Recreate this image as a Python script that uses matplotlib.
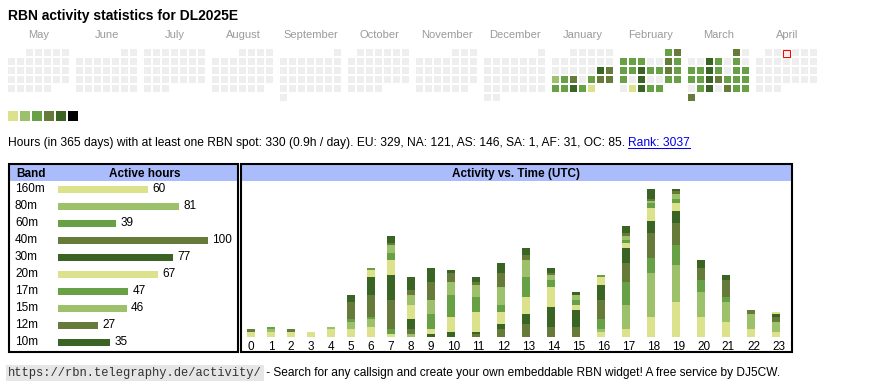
import datetime as dt
import numpy as np
import matplotlib
matplotlib.use('Agg')
import matplotlib.pyplot as plt
from matplotlib.patches import Rectangle

plt.rcParams['font.family'] = ['Liberation Sans', 'DejaVu Sans']

W, H = 870, 390

# activity level colours (0 = no spot, 1..6 = more hours)
level_colors = ['#eeeeee', '#dbe28b', '#9dc16a', '#68a046', '#667a39', '#396424', '#000000']

title = 'RBN activity statistics for DL2025E'
month_names = ['May', 'June', 'July', 'August', 'September', 'October', 'November',
               'December', 'January', 'February', 'March', 'April']
start_date = dt.date(2024, 5, 1)
end_date = dt.date(2025, 4, 30)
today = dt.date(2025, 4, 3)

# daily activity levels of the active months
jan_levels = [0] * 17 + [5, 4, 2, 3, 4, 0, 3, 4, 4, 3, 3, 5, 3, 1]
feb_levels = [3, 4, 3, 3, 3, 0, 0, 4, 3, 3, 3, 5, 3, 3, 4, 3, 3, 0, 5, 0, 0, 3, 3, 0, 1, 5, 3, 3]
mar_levels = [4, 0, 0, 0, 5, 3, 0, 3, 0, 3, 3, 5, 3, 0, 3, 3, 3, 3, 5, 4, 3, 3, 3, 0, 3, 5, 0, 4, 3, 3, 4]

stats_text = ('Hours (in 365 days) with at least one RBN spot: 330 (0.9h / day). '
              'EU: 329, NA: 121, AS: 146, SA: 1, AF: 31, OC: 85. ')
rank_text = 'Rank: 3037'

bands = ['160m', '80m', '60m', '40m', '30m', '20m', '17m', '15m', '12m', '10m']
band_hours = [60, 81, 39, 100, 77, 67, 47, 46, 27, 35]
band_color_idx = [1, 2, 3, 4, 5, 1, 3, 2, 4, 5]

hours = list(range(24))
hour_counts = [
    [2, 2, 2, 2, 3, 3, 4, 1, 0, 0, 0, 0, 0, 0, 0, 0, 2, 3, 8, 14, 8, 6, 3, 2],   # 160m
    [0, 1, 0, 0, 1, 3, 3, 0, 1, 0, 0, 0, 0, 0, 0, 0, 1, 10, 18, 15, 10, 8, 6, 4],  # 80m
    [0, 1, 0, 0, 0, 1, 1, 2, 0, 0, 0, 0, 0, 0, 0, 0, 4, 9, 6, 8, 5, 2, 0, 0],    # 60m
    [1, 0, 1, 0, 0, 7, 9, 12, 2, 0, 0, 1, 3, 5, 4, 4, 8, 8, 10, 9, 5, 7, 2, 2],  # 40m
    [0, 0, 0, 0, 0, 3, 7, 10, 4, 1, 2, 1, 2, 4, 8, 7, 6, 6, 5, 5, 3, 2, 0, 1],   # 30m
    [0, 0, 0, 0, 0, 0, 3, 6, 6, 2, 6, 8, 5, 7, 8, 2, 3, 2, 5, 3, 0, 0, 0, 1],    # 20m
    [0, 0, 0, 0, 0, 0, 1, 3, 0, 6, 9, 6, 3, 8, 3, 2, 1, 1, 2, 2, 0, 0, 0, 0],    # 17m
    [0, 0, 0, 0, 0, 0, 0, 3, 4, 6, 5, 5, 7, 7, 2, 2, 0, 2, 1, 2, 0, 0, 0, 0],    # 15m
    [0, 0, 0, 0, 0, 0, 0, 1, 2, 7, 4, 1, 6, 2, 1, 0, 0, 1, 1, 1, 0, 0, 0, 0],    # 12m
    [0, 0, 0, 0, 0, 0, 0, 3, 5, 6, 1, 2, 4, 3, 2, 1, 0, 3, 4, 1, 0, 0, 0, 0],    # 10m
]

footer_url = 'https://rbn.telegraphy.de/activity/'
footer_text = ' - Search for any callsign and create your own embeddable RBN widget! A free service by DJ5CW.'

fig = plt.figure(figsize=(W / 100, H / 100), dpi=100)
bg = fig.add_axes([0, 0, 1, 1])
bg.set_xlim(0, W)
bg.set_ylim(H, 0)
bg.axis('off')
renderer = fig.canvas.get_renderer()


def px_axes(x0, y0, x1, y1):
    ax = fig.add_axes([x0 / W, 1 - y1 / H, (x1 - x0) / W, (y1 - y0) / H])
    ax.axis('off')
    return ax


def fit(t, width):
    # scale font so the text gets the wanted pixel width
    w = t.get_window_extent(renderer).width
    t.set_fontsize(t.get_fontsize() * width / w)
    return t


fit(bg.text(8, 20, title, fontsize=11, fontweight='bold', va='baseline'), 231)

# calendar
levels_by_month = {(2025, 1): jan_levels, (2025, 2): feb_levels, (2025, 3): mar_levels}
for m, name in enumerate(month_names):
    bg.text(8 + m * 68 + 31, 38.5, name, fontsize=8, color='#9a9a9a', ha='center', va='baseline')

d = start_date
while d <= end_date:
    m = (d.year - start_date.year) * 12 + d.month - start_date.month
    row = (d.day - 1 + d.replace(day=1).weekday()) // 7
    x = 8 + m * 68 + d.weekday() * 9
    y = 49 + row * 9
    lv = levels_by_month.get((d.year, d.month))
    level = lv[d.day - 1] if lv else 0
    bg.add_patch(Rectangle((x, y), 7, 7, facecolor=level_colors[level], edgecolor='none'))
    if d == today:
        bg.add_patch(Rectangle((x + 0.5, y + 0.5), 7, 7, facecolor='none', edgecolor='red', lw=0.75))
    d += dt.timedelta(days=1)

for i, c in enumerate(level_colors[1:]):
    bg.add_patch(Rectangle((8 + 12 * i, 111), 10, 10, facecolor=c, edgecolor='none'))

# summary line
st = fit(bg.text(8, 146, stats_text + rank_text, fontsize=8, va='baseline'), 679)
st.set_text(stats_text)
ext = st.get_window_extent(renderer)
rk = bg.text(ext.x1, 146, rank_text, fontsize=st.get_fontsize(), color='#0000ee', va='baseline')
rext = rk.get_window_extent(renderer)
bg.plot([rext.x0, rext.x1], [147.5, 147.5], color='#0000ee', lw=0.75)

# boxes and headers
for x0, x1 in [(9, 238), (241, 792)]:
    bg.add_patch(Rectangle((x0 + 1, 165), x1 - x0 - 2, 15.5, facecolor='#abbcfd', edgecolor='none'))
    bg.add_patch(Rectangle((x0, 164), x1 - x0, 188, facecolor='none', edgecolor='black', lw=1.5))
bg.text(16, 177.3, 'Band', fontsize=8.5, fontweight='bold', va='baseline')
bg.text(144.5, 177.3, 'Active hours', fontsize=8.5, fontweight='bold', va='baseline', ha='center')
bg.text(516, 177.3, 'Activity vs. Time (UTC)', fontsize=8.5, fontweight='bold', va='baseline', ha='center')

# band totals
band_ax = px_axes(58, 180.8, 208, 350.8)
band_ax.set_xlim(0, 100)
band_ax.set_ylim(len(bands) - 0.5, -0.5)
band_ax.barh(range(len(bands)), band_hours, height=0.41,
             color=[level_colors[c] for c in band_color_idx])
for i, (b, v) in enumerate(zip(bands, band_hours)):
    band_ax.text(-28.7, i, b, fontsize=8.5, va='center', ha='left')
    band_ax.text(v + 2.7, i, str(v), fontsize=8.5, va='center', ha='left')

# activity vs. hour of day
act_ax = px_axes(241, 181, 791, 336.67)
act_ax.set_xlim(0, 550)
act_ax.set_ylim(0, 155.67 / 2.467)
col_w = np.array([20 if h < 10 else 25 for h in hours])
col_left = np.concatenate([[0], np.cumsum(col_w)[:-1]])
bottom = np.zeros(len(hours))
for vals, ci in zip(hour_counts, band_color_idx):
    act_ax.bar(col_left + 10, vals, width=8, bottom=bottom, color=level_colors[ci], lw=0)
    bottom += np.array(vals)
for h in hours:
    act_ax.text(col_left[h] + col_w[h] / 2, -13.3 / 2.467, str(h), fontsize=8.5,
                ha='center', va='baseline')

# footer
ft = fit(bg.text(8, 373, footer_url, family='Liberation Mono', fontsize=8.5, va='center',
                 color='#333333'), 251)
ft.set_bbox(dict(boxstyle='square,pad=0.15', facecolor='#e6e6e6', edgecolor='none'))
fext = ft.get_window_extent(renderer)
fit(bg.text(fext.x1 + 1, 373, footer_text, fontsize=8, va='center'), 783 - fext.x1 - 1)

fig.savefig('out.png', dpi=100)
